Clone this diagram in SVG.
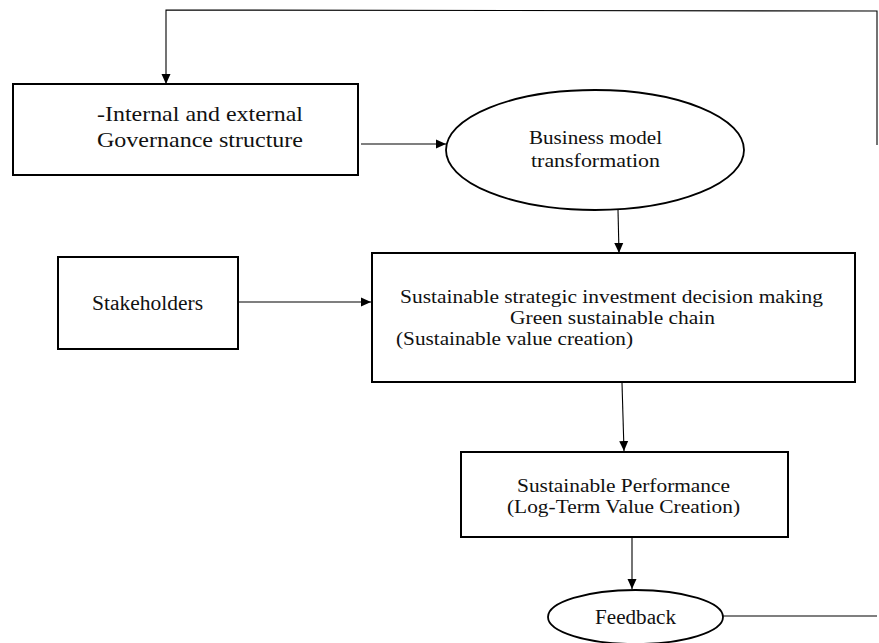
<svg xmlns="http://www.w3.org/2000/svg" width="879" height="643" viewBox="0 0 879 643">
<defs>
<style>
.node{fill:#fff;stroke:#000;stroke-width:2}
.ell{fill:#fff;stroke:#000;stroke-width:1.8}
.t{font-family:"Liberation Serif","Times New Roman",serif;fill:#111;}
.edge{fill:none;stroke:#000;stroke-width:1.1}
</style>
<marker id="ah" markerWidth="10" markerHeight="10" viewBox="0 0 10 10" refX="10" refY="5" orient="auto" markerUnits="userSpaceOnUse">
<path d="M0,0.5 L10,5 L0,9.5 Z" fill="#000"/>
</marker>
</defs>
<rect width="879" height="643" fill="#fff"/>
<g id="connectors">
<polyline class="edge" points="877,145 877,11 166,10 166,84" marker-end="url(#ah)"/>
<line class="edge" x1="723" y1="616" x2="877" y2="616"/>
<line class="edge" x1="361" y1="144" x2="446" y2="144" marker-end="url(#ah)"/>
<line class="edge" x1="618" y1="210" x2="619" y2="253" marker-end="url(#ah)"/>
<line class="edge" x1="233" y1="302" x2="371" y2="302" marker-end="url(#ah)"/>
<line class="edge" x1="622" y1="383" x2="624" y2="451" marker-end="url(#ah)"/>
<line class="edge" x1="632" y1="538" x2="632" y2="589" marker-end="url(#ah)"/>
</g>
<g id="governance">
<rect class="node" x="13" y="84" width="345" height="91"/>
<text class="t" x="97" y="121" font-size="22" textLength="206" lengthAdjust="spacingAndGlyphs">-Internal and external</text>
<text class="t" x="97" y="147" font-size="22" textLength="206" lengthAdjust="spacingAndGlyphs">Governance structure</text>
</g>
<g id="business-model">
<ellipse class="ell" cx="595" cy="150" rx="149" ry="60"/>
<text class="t" x="529" y="144" font-size="19" textLength="133" lengthAdjust="spacingAndGlyphs">Business model</text>
<text class="t" x="531" y="167" font-size="19" textLength="129" lengthAdjust="spacingAndGlyphs">transformation</text>
</g>
<g id="stakeholders">
<rect class="node" x="58" y="257" width="180" height="92"/>
<text class="t" x="92" y="310" font-size="20" textLength="111" lengthAdjust="spacingAndGlyphs">Stakeholders</text>
</g>
<g id="strategic-decision">
<rect class="node" x="372" y="253" width="483" height="129"/>
<text class="t" x="400" y="303" font-size="19" textLength="423" lengthAdjust="spacingAndGlyphs">Sustainable strategic investment decision making</text>
<text class="t" x="510" y="324" font-size="19" textLength="205" lengthAdjust="spacingAndGlyphs">Green sustainable chain</text>
<text class="t" x="396" y="345" font-size="19" textLength="237" lengthAdjust="spacingAndGlyphs">(Sustainable value creation)</text>
</g>
<g id="performance">
<rect class="node" x="461" y="452" width="327" height="85"/>
<text class="t" x="517" y="492" font-size="19" textLength="213" lengthAdjust="spacingAndGlyphs">Sustainable Performance</text>
<text class="t" x="507" y="513" font-size="19" textLength="233" lengthAdjust="spacingAndGlyphs">(Log-Term Value Creation)</text>
</g>
<g id="feedback">
<ellipse class="ell" cx="635.5" cy="617" rx="87.5" ry="27"/>
<text class="t" x="595" y="624" font-size="20" textLength="81" lengthAdjust="spacingAndGlyphs">Feedback</text>
</g>
</svg>
